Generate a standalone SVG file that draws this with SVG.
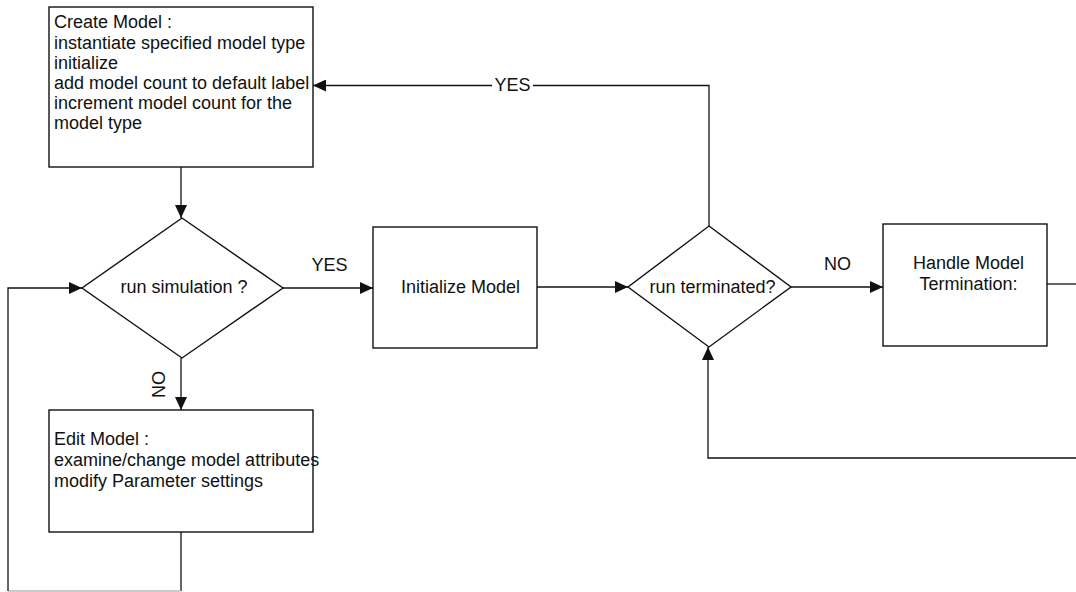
<svg xmlns="http://www.w3.org/2000/svg" width="1076" height="592" viewBox="0 0 1076 592">
  <defs>
    <style>
      .box { fill: #fff; stroke: #111; stroke-width: 1.4; }
      .wire { fill: none; stroke: #111; stroke-width: 1.3; }
      .faint { fill: none; stroke: #bbb; stroke-width: 1.3; }
      text { font-family: "Liberation Sans", Arial, sans-serif; font-size: 18px; fill: #111; }
      .mid { text-anchor: middle; }
    </style>
    <marker id="arrow" markerUnits="userSpaceOnUse" markerWidth="13" markerHeight="12" refX="13" refY="6" orient="auto">
      <path d="M0,0 L13,6 L0,12 z" fill="#111"/>
    </marker>
  </defs>
  <rect width="1076" height="592" fill="#fff"/>

  <!-- connectors -->
  <g id="connectors">
    <path class="wire" d="M181,167 V218" marker-end="url(#arrow)"/>
    <path class="wire" d="M283,288 H373" marker-end="url(#arrow)"/>
    <path class="wire" d="M181,358 V410" marker-end="url(#arrow)"/>
    <path class="wire" d="M181,532 V591"/>
    <path class="faint" d="M181,591 H8"/>
    <path class="wire" d="M8,591 V288 H82" marker-end="url(#arrow)"/>
    <path class="wire" d="M537,287 H628" marker-end="url(#arrow)"/>
    <path class="wire" d="M709,226 V85.5 H533"/>
    <path class="wire" d="M492,85.5 H313" marker-end="url(#arrow)"/>
    <path class="wire" d="M791,287 H883" marker-end="url(#arrow)"/>
    <path class="wire" d="M1047,284 H1076"/>
    <path class="wire" d="M1076,458 H708 V347" marker-end="url(#arrow)"/>
    <text x="512.5" y="91" class="mid">YES</text>
    <text x="329.5" y="271" class="mid">YES</text>
    <text x="837.5" y="270" class="mid">NO</text>
    <text x="165" y="384.5" class="mid" transform="rotate(-90 165 384.5)">NO</text>
  </g>

  <g id="create-model">
    <rect class="box" x="49" y="7" width="264" height="160"/>
    <text x="54" y="28.3">Create Model :</text>
    <text x="54" y="48.5">instantiate specified model type</text>
    <text x="54" y="68.7">initialize</text>
    <text x="54" y="88.9">add model count to default label</text>
    <text x="54" y="109.1">increment model count for the</text>
    <text x="54" y="129.3">model type</text>
  </g>

  <g id="run-simulation">
    <polygon class="box" points="182,218 283,288 182,358 82,288"/>
    <text x="184" y="293" class="mid">run simulation ?</text>
  </g>

  <g id="edit-model">
    <rect class="box" x="49" y="410" width="264" height="122"/>
    <text x="54" y="445">Edit Model :</text>
    <text x="54" y="466">examine/change model attributes</text>
    <text x="54" y="487">modify Parameter settings</text>
  </g>

  <g id="initialize-model">
    <rect class="box" x="373" y="227" width="164" height="121"/>
    <text x="460.5" y="293" class="mid">Initialize Model</text>
  </g>

  <g id="run-terminated">
    <polygon class="box" points="709,226 791,287 709,347 628,287"/>
    <text x="712.5" y="293" class="mid">run terminated?</text>
  </g>

  <g id="handle-termination">
    <rect class="box" x="883" y="224" width="164" height="122"/>
    <text x="968.5" y="269" class="mid">Handle Model</text>
    <text x="968.5" y="290" class="mid">Termination:</text>
  </g>
</svg>
